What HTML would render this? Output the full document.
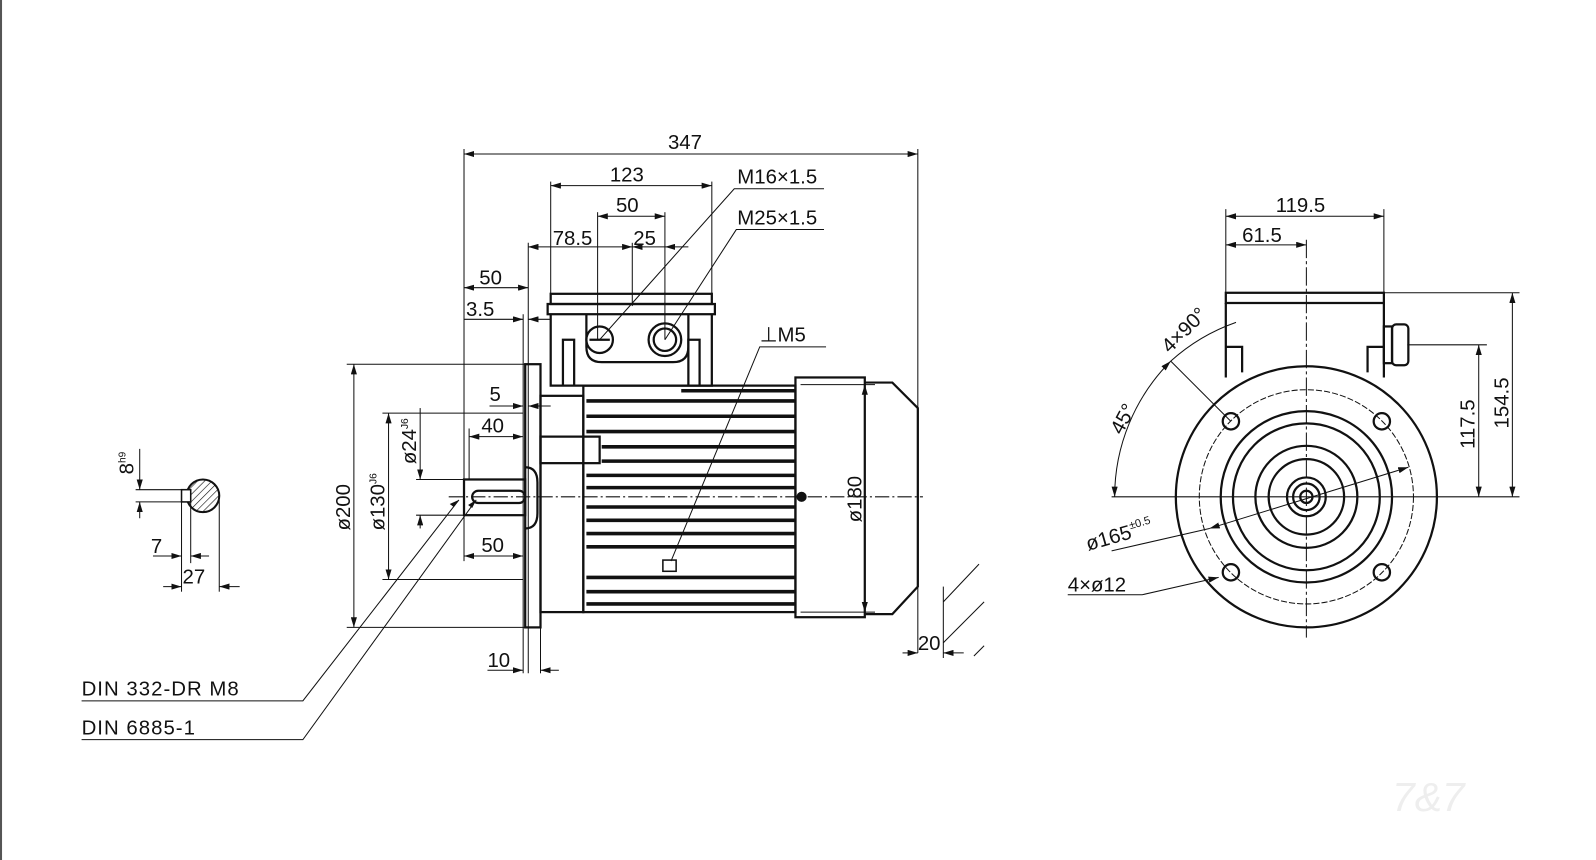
<!DOCTYPE html>
<html><head><meta charset="utf-8"><style>
html,body{margin:0;padding:0;background:#fff;}
svg{display:block;}
text{font-family:"Liberation Sans",sans-serif;font-size:20px;fill:#111;}
</style></head><body>
<svg width="1596" height="860" viewBox="0 0 1565 843" preserveAspectRatio="none" xmlns="http://www.w3.org/2000/svg">
<defs>
<marker id="a" viewBox="0 0 10 6" refX="10" refY="3" markerWidth="10" markerHeight="6" orient="auto-start-reverse" markerUnits="userSpaceOnUse"><path d="M0,0 L10,3 L0,6z" fill="#111"/></marker>
<pattern id="h" width="5" height="5" patternUnits="userSpaceOnUse" patternTransform="rotate(45)"><line x1="0" y1="0" x2="0" y2="5" stroke="#111" stroke-width="1.2"/></pattern>
</defs>
<rect width="1565" height="843" fill="#fff"/>
<line x1="1" y1="0" x2="1" y2="843" stroke="#555" stroke-width="2"/>

<g fill="none" stroke="#111" stroke-width="1">
<line x1="455" y1="146" x2="455" y2="550"/>
<line x1="900" y1="146" x2="900" y2="640"/>
<line x1="540" y1="178" x2="540" y2="290"/>
<line x1="698" y1="178" x2="698" y2="290"/>
<line x1="586" y1="208" x2="586" y2="333"/>
<line x1="652" y1="208" x2="652" y2="333"/>
<line x1="620" y1="238" x2="620" y2="300"/>
<line x1="518" y1="238" x2="518" y2="660"/>
<line x1="513" y1="308" x2="513" y2="660"/>
<line x1="530" y1="600" x2="530" y2="660"/>
<line x1="455" y1="151" x2="900" y2="151" marker-start="url(#a)" marker-end="url(#a)"/>
<line x1="540" y1="182" x2="698" y2="182" marker-start="url(#a)" marker-end="url(#a)"/>
<line x1="586" y1="212" x2="652" y2="212" marker-start="url(#a)" marker-end="url(#a)"/>
<line x1="518" y1="242" x2="620" y2="242" marker-start="url(#a)" marker-end="url(#a)"/>
<line x1="620" y1="242" x2="652" y2="242" marker-start="url(#a)"/>
<line x1="652" y1="242" x2="675" y2="242" marker-start="url(#a)"/>
<line x1="455" y1="282" x2="518" y2="282" marker-start="url(#a)" marker-end="url(#a)"/>
<line x1="455" y1="313" x2="513" y2="313" marker-end="url(#a)"/>
<line x1="518" y1="313" x2="540" y2="313" marker-start="url(#a)"/>
<line x1="480" y1="398" x2="513" y2="398" marker-end="url(#a)"/>
<line x1="518" y1="398" x2="540" y2="398" marker-start="url(#a)"/>
<line x1="460" y1="428" x2="513" y2="428" marker-start="url(#a)" marker-end="url(#a)"/>
<line x1="455" y1="545" x2="513" y2="545" marker-start="url(#a)" marker-end="url(#a)"/>
<line x1="478" y1="657" x2="513" y2="657" marker-end="url(#a)"/>
<line x1="530" y1="657" x2="548" y2="657" marker-start="url(#a)"/>
<line x1="885" y1="640" x2="900" y2="640" marker-end="url(#a)"/>
<line x1="925" y1="640" x2="945" y2="640" marker-start="url(#a)"/>
<line x1="925" y1="575" x2="925" y2="645"/>
<line x1="925" y1="590" x2="960" y2="553"/>
<line x1="925" y1="630" x2="965" y2="590"/>
<line x1="955" y1="643" x2="965" y2="633"/>
<line x1="460" y1="420" x2="460" y2="470"/>
<line x1="340" y1="357" x2="515" y2="357"/>
<line x1="340" y1="615" x2="515" y2="615"/>
<line x1="347" y1="357" x2="347" y2="615" marker-start="url(#a)" marker-end="url(#a)"/>
<line x1="375" y1="405" x2="513" y2="405"/>
<line x1="375" y1="568" x2="513" y2="568"/>
<line x1="381" y1="405" x2="381" y2="568" marker-start="url(#a)" marker-end="url(#a)"/>
<line x1="408" y1="470" x2="455" y2="470"/>
<line x1="408" y1="505" x2="455" y2="505"/>
<line x1="412" y1="400" x2="412" y2="470" marker-end="url(#a)"/>
<line x1="412" y1="505" x2="412" y2="518" marker-start="url(#a)"/>
<line x1="785" y1="377" x2="858" y2="377"/>
<line x1="785" y1="600" x2="858" y2="600"/>
<line x1="848" y1="377" x2="848" y2="600" marker-start="url(#a)" marker-end="url(#a)"/>
<polyline points="80,687 297,687 450,490" />
<polyline points="80,725 297,725 467,490" />
<polyline points="808,185 720,185 588,333"/>
<polyline points="808,225 722,225 652,333"/>
<polyline points="810,340 745,340 658,550"/>
</g>
<g fill="#111">
<path d="M450,490 l-9,4 l4,3z"/><path d="M467,490 l-8,5 l4,3z"/>
</g>

<g fill="none" stroke="#111" stroke-width="2.2">
<rect x="515" y="357" width="15" height="258"/>
<rect x="455" y="470" width="60" height="35"/>
<rect x="463" y="481" width="52" height="12" rx="6"/>
<path d="M515,458 q12,0 12,15 v30 q0,15 -12,15"/>
<rect x="530" y="388" width="42" height="212"/>
<rect x="530" y="428" width="58" height="26"/>
<rect x="572" y="378" width="208" height="222"/>
<rect x="780" y="370" width="68" height="235"/>
<path d="M848,375 L875,375 L900,400 L900,575 L875,602 L848,602"/>
<rect x="540" y="288" width="158" height="10"/>
<rect x="537" y="298" width="164" height="10"/>
<path d="M540,308 V378 H698 V308"/>
<path d="M552,378 V333 H563 V378 M686,378 V333 H675 V378"/>
<path d="M575,308 V340 q0,15 15,15 H660 q15,0 15,-15 V308"/>
<circle cx="588" cy="333" r="13"/>
<circle cx="652" cy="333" r="16"/><circle cx="652" cy="333" r="11"/>
<line x1="578" y1="333" x2="598" y2="333"/>
</g>
<g stroke="#111" stroke-width="3.5">
<line x1="575" y1="393" x2="780" y2="393"/><line x1="575" y1="408" x2="780" y2="408"/>
<line x1="575" y1="423" x2="780" y2="423"/><line x1="590" y1="438" x2="780" y2="438"/>
<line x1="590" y1="452" x2="780" y2="452"/><line x1="575" y1="466" x2="780" y2="466"/>
<line x1="575" y1="478" x2="780" y2="478"/>
<line x1="575" y1="497" x2="780" y2="497"/>
<line x1="575" y1="510" x2="780" y2="510"/><line x1="575" y1="523" x2="780" y2="523"/>
<line x1="575" y1="536" x2="780" y2="536"/><line x1="575" y1="566" x2="780" y2="566"/>
<line x1="575" y1="580" x2="780" y2="580"/><line x1="575" y1="592" x2="780" y2="592"/>
<line x1="668" y1="383" x2="780" y2="383"/>
</g>
<circle cx="786" cy="487" r="5" fill="#111"/>
<rect x="650" y="549" width="13" height="11" fill="none" stroke="#111" stroke-width="1.5"/>
<line x1="440" y1="487" x2="905" y2="487" stroke="#111" stroke-width="1" stroke-dasharray="14,3,2,3"/>

<g stroke="#111" stroke-width="1" fill="none">
<circle cx="199" cy="486" r="16" fill="url(#h)" stroke-width="2"/>
<rect x="178" y="480" width="9" height="12" fill="#fff" stroke-width="1.5"/>
<line x1="133" y1="480" x2="180" y2="480"/><line x1="133" y1="492" x2="180" y2="492"/>
<line x1="137" y1="440" x2="137" y2="480" marker-end="url(#a)"/>
<line x1="137" y1="492" x2="137" y2="508" marker-start="url(#a)"/>
<line x1="178" y1="492" x2="178" y2="580"/><line x1="187" y1="492" x2="187" y2="552"/>
<line x1="215" y1="490" x2="215" y2="580"/>
<line x1="150" y1="545" x2="178" y2="545" marker-end="url(#a)"/>
<line x1="187" y1="545" x2="205" y2="545" marker-start="url(#a)"/>
<line x1="160" y1="575" x2="178" y2="575" marker-end="url(#a)"/>
<line x1="215" y1="575" x2="235" y2="575" marker-start="url(#a)"/>
</g>

<g fill="none" stroke="#111" stroke-width="1">
<line x1="1202" y1="205" x2="1202" y2="290"/><line x1="1357" y1="205" x2="1357" y2="290"/>
<line x1="1202" y1="212" x2="1357" y2="212" marker-start="url(#a)" marker-end="url(#a)"/>
<line x1="1202" y1="240" x2="1281" y2="240" marker-start="url(#a)" marker-end="url(#a)"/>
<line x1="1357" y1="287" x2="1490" y2="287"/><line x1="1380" y1="338" x2="1458" y2="338"/>
<line x1="1090" y1="487" x2="1490" y2="487"/>
<line x1="1450" y1="338" x2="1450" y2="487" marker-start="url(#a)" marker-end="url(#a)"/>
<line x1="1483" y1="287" x2="1483" y2="487" marker-start="url(#a)" marker-end="url(#a)"/>
<line x1="1281" y1="235" x2="1281" y2="625" stroke-dasharray="18,3,3,3"/>
<circle cx="1281" cy="487" r="105" stroke-dasharray="6,2"/>
<path d="M1093,487 A188,188 0 0 1 1148,354" marker-start="url(#a)" marker-end="url(#a)"/>
<path d="M1148,354 A188,188 0 0 1 1212,316"/>
<line x1="1148" y1="354" x2="1207" y2="413"/>
<line x1="1186" y1="518" x2="1381" y2="458" marker-start="url(#a)" marker-end="url(#a)"/>
<line x1="1090" y1="540" x2="1186" y2="518"/>
<polyline points="1047,583 1120,583 1195,566" marker-end="url(#a)"/>
</g>
<g fill="none" stroke="#111" stroke-width="2.2">
<rect x="1202" y="287" width="155" height="10"/>
<path d="M1202,297 V370 M1357,297 V370"/>
<path d="M1202,340 H1218 V365 M1357,340 H1341 V365"/>
<rect x="1357" y="320" width="8" height="36"/>
<rect x="1365" y="318" width="16" height="40" rx="4"/>
<circle cx="1281" cy="487" r="128"/>
<circle cx="1281" cy="487" r="84"/>
<circle cx="1281" cy="487" r="72"/>
<circle cx="1281" cy="487" r="50"/>
<circle cx="1281" cy="487" r="37"/>
<circle cx="1281" cy="487" r="19"/>
<circle cx="1281" cy="487" r="13"/>
<circle cx="1281" cy="487" r="6"/>
<circle cx="1207" cy="413" r="8"/><circle cx="1355" cy="413" r="8"/>
<circle cx="1207" cy="561" r="8"/><circle cx="1355" cy="561" r="8"/>
</g>

<text x="655" y="146">347</text>
<text x="598" y="178">123</text>
<text x="604" y="208">50</text>
<text x="542" y="240">78.5</text>
<text x="621" y="240">25</text>
<text x="723" y="180">M16×1.5</text>
<text x="723" y="220">M25×1.5</text>
<text x="745" y="335">⊥M5</text>
<text x="470" y="279">50</text>
<text x="457" y="310">3.5</text>
<text x="480" y="393">5</text>
<text x="472" y="424">40</text>
<text x="472" y="541">50</text>
<text x="478" y="654">10</text>
<text x="900" y="637">20</text>
<text x="148" y="542">7</text>
<text x="179" y="572">27</text>
<text x="80" y="682" style="letter-spacing:1px">DIN 332-DR M8</text>
<text x="80" y="720" style="letter-spacing:1px">DIN 6885-1</text>
<text transform="translate(343,520) rotate(-90)">ø200</text>
<text transform="translate(377,520) rotate(-90)">ø130<tspan font-size="10" dy="-8">J6</tspan></text>
<text transform="translate(408,455) rotate(-90)">ø24<tspan font-size="10" dy="-8">J6</tspan></text>
<text transform="translate(131,465) rotate(-90)">8<tspan font-size="10" dy="-8">h9</tspan></text>
<text transform="translate(845,512) rotate(-90)">ø180</text>
<text x="1251" y="208">119.5</text>
<text x="1218" y="237">61.5</text>
<text transform="translate(1446,440) rotate(-90)">117.5</text>
<text transform="translate(1479,420) rotate(-90)">154.5</text>
<text transform="translate(1100,427) rotate(-62)">45°</text>
<text transform="translate(1147,347) rotate(-45)">4×90°</text>
<text transform="translate(1067,540) rotate(-16)">ø165<tspan font-size="11" dy="-9">±0.5</tspan></text>
<text x="1047" y="580">4×ø12</text>
<text x="1365" y="795" style="font-size:40px;fill:#eee;font-style:italic">7&amp;7</text>
</svg>
</body></html>
